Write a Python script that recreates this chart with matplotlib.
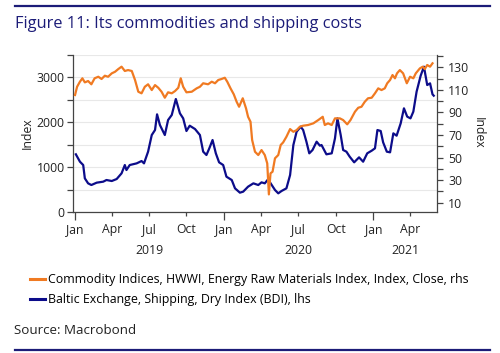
import matplotlib
matplotlib.use("Agg")
import matplotlib.pyplot as plt
import matplotlib.dates as mdates
import matplotlib.transforms as mtransforms
from matplotlib.ticker import MultipleLocator
import pandas as pd

plt.rcParams['font.family'] = ['Open Sans', 'DejaVu Sans']

# Baltic Dry Index (lhs)
bdi_dates = ["2019-01-03","2019-01-13","2019-01-21","2019-01-25","2019-02-02","2019-02-10","2019-02-23",
             "2019-03-11","2019-03-19","2019-04-01","2019-04-13","2019-04-25","2019-05-03","2019-05-07",
             "2019-05-15","2019-06-01","2019-06-13","2019-06-19","2019-06-29","2019-07-08","2019-07-16",
             "2019-07-21","2019-07-28","2019-08-09","2019-08-17","2019-08-26","2019-09-05","2019-09-15",
             "2019-09-23","2019-10-01","2019-10-09","2019-10-22","2019-11-03","2019-11-11","2019-11-19",
             "2019-11-26","2019-12-04","2019-12-12","2019-12-20","2019-12-30","2020-01-07","2020-01-20",
             "2020-01-28","2020-02-09","2020-02-17","2020-02-29","2020-03-13","2020-03-25","2020-04-02",
             "2020-04-10","2020-04-18","2020-04-27","2020-05-05","2020-05-13","2020-05-21","2020-06-02",
             "2020-06-11","2020-06-19","2020-06-27","2020-07-07","2020-07-13","2020-07-21","2020-07-28",
             "2020-08-05","2020-08-15","2020-08-23","2020-08-27","2020-09-08","2020-09-21","2020-09-29",
             "2020-10-05","2020-10-13","2020-10-19","2020-10-27","2020-11-04","2020-11-15","2020-11-27",
             "2020-12-07","2020-12-17","2020-12-28","2021-01-05","2021-01-11","2021-01-19","2021-01-25",
             "2021-02-03","2021-02-11","2021-02-19","2021-02-27","2021-03-09","2021-03-17","2021-03-25",
             "2021-04-02","2021-04-09","2021-04-17","2021-04-27","2021-05-05","2021-05-13","2021-05-20",
             "2021-05-26","2021-05-29"]
bdi_values = [1282,1118,1044,748,637,600,652,
              674,711,689,733,859,1044,933,
              1044,1081,1133,1081,1341,1711,1822,
              2170,1933,1711,2044,2156,2511,2193,
              2081,1800,1918,1844,1711,1341,1267,
              1415,1600,1304,1104,1044,785,711,
              526,430,452,563,637,600,659,
              637,726,600,489,415,467,526,
              822,1489,1785,1896,1822,1563,1304,
              1378,1563,1474,1489,1282,1304,1637,
              2081,1711,1378,1341,1230,1104,1215,
              1118,1304,1363,1415,1822,1800,1548,
              1341,1326,1748,1696,1970,2304,2119,
              2081,2230,2674,3030,3230,2822,2859,
              2615,2585]

# HWWI Energy Raw Materials Index (rhs)
hwwi_dates = ["2019-01-01","2019-01-06","2019-01-13","2019-01-19","2019-01-25","2019-02-02","2019-02-10",
              "2019-02-18","2019-02-27","2019-03-07","2019-03-15","2019-03-23","2019-04-01","2019-04-09",
              "2019-04-17","2019-04-25","2019-05-03","2019-05-11","2019-05-20","2019-05-28","2019-06-05",
              "2019-06-13","2019-06-21","2019-06-29","2019-07-08","2019-07-16","2019-07-24","2019-08-01",
              "2019-08-09","2019-08-17","2019-08-26","2019-09-03","2019-09-11","2019-09-17","2019-09-23",
              "2019-10-01","2019-10-14","2019-10-26","2019-11-03","2019-11-11","2019-11-23","2019-12-02",
              "2019-12-10","2019-12-18","2019-12-26","2020-01-03","2020-01-09","2020-01-17","2020-01-25",
              "2020-02-01","2020-02-07","2020-02-16","2020-02-24","2020-02-29","2020-03-06","2020-03-10",
              "2020-03-17","2020-03-25","2020-04-02","2020-04-10","2020-04-16","2020-04-20","2020-04-24",
              "2020-04-29","2020-05-05","2020-05-13","2020-05-19","2020-05-25","2020-06-02","2020-06-11",
              "2020-06-19","2020-06-27","2020-07-05","2020-07-13","2020-07-25","2020-08-07","2020-08-19",
              "2020-08-30","2020-09-04","2020-09-12","2020-09-21","2020-09-29","2020-10-11","2020-10-19",
              "2020-10-29","2020-11-06","2020-11-17","2020-11-25","2020-12-03","2020-12-11","2020-12-19",
              "2020-12-28","2021-01-05","2021-01-13","2021-01-21","2021-01-29","2021-02-04","2021-02-11",
              "2021-02-17","2021-02-23","2021-02-28","2021-03-07","2021-03-15","2021-03-24","2021-04-01",
              "2021-04-09","2021-04-15","2021-04-25","2021-05-02","2021-05-07","2021-05-13","2021-05-20",
              "2021-05-26"]
hwwi_values = [105.5,112.8,117.3,120.3,116.7,117.9,115.0,
               120.3,121.7,119.7,122.6,121.7,124.7,126.1,
               128.5,130.6,126.8,127.6,126.8,118.8,108.4,
               107.0,112.8,115.0,109.9,114.3,111.9,108.4,
               103.1,107.9,107.0,109.0,111.9,120.3,112.8,
               107.9,108.4,111.4,112.8,115.9,115.0,117.3,
               115.9,118.8,119.7,120.8,117.3,111.4,106.1,
               99.5,95.1,102.6,93.7,86.2,81.8,65.6,
               55.2,52.3,56.7,52.3,44.9,17.4,36.1,
               37.5,49.4,52.3,61.2,63.5,68.5,75.3,
               72.9,74.4,77.4,78.3,78.9,80.4,83.3,
               86.2,78.9,80.4,78.9,84.8,84.8,83.3,
               79.5,83.3,90.7,94.2,95.1,99.5,102.6,
               103.1,107.0,111.4,109.9,111.4,115.9,118.8,
               123.2,120.3,124.7,127.6,124.7,115.9,121.7,
               120.3,124.7,129.1,130.6,128.5,132.1,130.6,
               133.6]

legend_labels = ["Commodity Indices, HWWI, Energy Raw Materials Index, Index, Close, rhs",
                 "Baltic Exchange, Shipping, Dry Index (BDI), lhs"]
title = "Figure 11: Its commodities and shipping costs"
source = "Source: Macrobond"

NAVY = "#1c1c78"
ORANGE = "#f07a22"
BLUE = "#0c0c8a"
GRAY = "#444444"
TXT = "#222222"
TS = 8.8

fig = plt.figure(figsize=(5.0, 3.53), dpi=100)
ax = fig.add_axes([0.146, 0.3994, 0.728, 0.4462])
ax2 = ax.twinx()

bd = pd.to_datetime(bdi_dates)
hd = pd.to_datetime(hwwi_dates)
l_blue, = ax.plot(bd, bdi_values, color=BLUE, lw=1.6, label=legend_labels[1])
l_orange, = ax2.plot(hd, hwwi_values, color=ORANGE, lw=1.6, label=legend_labels[0])

ax.set_xlim(pd.Timestamp("2018-12-27"), pd.Timestamp("2021-06-06"))
ax.set_ylim(0, 3500)
ax2.set_ylim(1.8, 141.4)

ax.yaxis.set_major_locator(MultipleLocator(1000))
ax.yaxis.set_minor_locator(MultipleLocator(500))
ax.grid(True, which='both', axis='y', color='#e8e8e8', lw=0.8)
ax.set_axisbelow(True)
ax2.set_yticks([10, 30, 50, 70, 90, 110, 130])
ax2.set_yticks([20, 40, 60, 80, 100, 120, 140], minor=True)

ax.xaxis.set_major_locator(mdates.MonthLocator(bymonth=[1]))
ax.xaxis.set_minor_locator(mdates.MonthLocator(bymonth=[4, 7, 10]))
ax.xaxis.set_major_formatter(mdates.DateFormatter('%b'))
ax.xaxis.set_minor_formatter(mdates.DateFormatter('%b'))

for a in (ax, ax2):
    a.spines['top'].set_visible(False)
    for s in ('left', 'right', 'bottom'):
        a.spines[s].set_color(GRAY)
        a.spines[s].set_linewidth(0.9)
ax.spines['right'].set_visible(False)
ax2.spines['left'].set_visible(False)
ax2.spines['bottom'].set_visible(False)

ax.tick_params(axis='x', which='major', length=6, pad=2, width=0.9, color=GRAY, labelsize=TS, labelcolor=TXT)
ax.tick_params(axis='x', which='minor', length=3, pad=5, width=0.9, color=GRAY, labelsize=TS, labelcolor=TXT)
ax.tick_params(axis='y', which='both', length=4, width=0.9, color=GRAY, labelsize=TS, labelcolor=TXT, pad=2)
ax2.tick_params(axis='y', which='both', length=4, width=0.9, color=GRAY, labelsize=TS, labelcolor=TXT, pad=4)

ax.set_ylabel("Index", fontsize=TS, color=TXT, labelpad=2)
ax2.set_ylabel("Index", fontsize=TS, color=TXT, rotation=270, labelpad=11)

xmin, xmax = ax.get_xlim()
trans = mtransforms.blended_transform_factory(ax.transData, ax.transAxes)
for yr in (2019, 2020, 2021):
    s = max(mdates.date2num(pd.Timestamp(f"{yr}-01-01")), xmin)
    e = min(mdates.date2num(pd.Timestamp(f"{yr+1}-01-01")), xmax)
    ax.text((s + e) / 2, -0.2, str(yr), transform=trans, ha='center', va='top',
            fontsize=TS, color=TXT)

fig.text(0.03, 0.931, title, fontsize=11.8, color=NAVY, ha='left', va='center')
fig.add_artist(plt.Line2D([0.03, 0.98], [0.983, 0.983], transform=fig.transFigure, color=NAVY, lw=1.6))
fig.add_artist(plt.Line2D([0.03, 0.98], [0.009, 0.009], transform=fig.transFigure, color=NAVY, lw=1.6))

fig.legend(handles=[l_orange, l_blue], labels=legend_labels, loc='upper left',
           bbox_to_anchor=(0.06, 0.226), frameon=False, fontsize=8.9, handlelength=1.25,
           handletextpad=0.2, labelspacing=0.55, borderaxespad=0, borderpad=0)
for lh in fig.legends[0].get_lines():
    lh.set_linewidth(2.2)

fig.text(0.028, 0.065, source, fontsize=9.6, color=TXT, ha='left', va='center')

fig.savefig("out.png", dpi=100)
